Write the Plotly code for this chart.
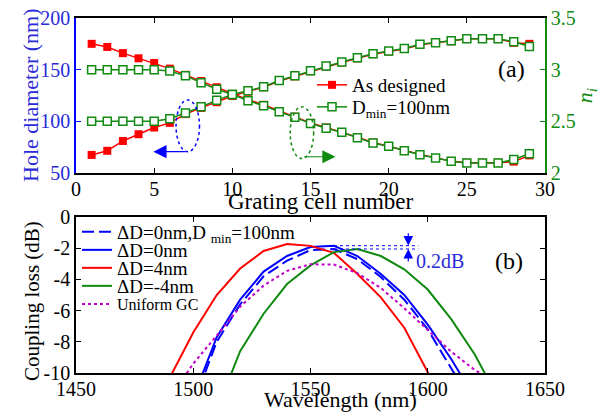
import plotly.graph_objects as go

# ---------------- data: panel (a) ----------------
cell = [1, 2, 3, 4, 5, 6, 7, 8, 9, 10, 11, 12, 13, 14, 15, 16, 17, 18, 19, 20,
        21, 22, 23, 24, 25, 26, 27, 28, 29]
hole_designed = [67.5, 71.5, 81, 87.5, 94, 98.5, 107, 113, 118.5, 124.5, 129, 133, 139, 143.5,
                 148.5, 153, 157, 161, 165, 167.5, 170, 174, 176, 177.5, 180, 180, 180, 176, 175]
hole_dmin = [100, 100, 100, 100, 100, 102.5, 108, 114, 120.5, 126, 129.5, 133.5, 139.5, 144,
             149, 153.5, 157.5, 161.5, 165.5, 168, 170.5, 174.5, 176, 178, 180, 180, 180, 177, 172.5]
n_designed = [3.25, 3.22, 3.16, 3.11, 3.065, 3.01, 2.95, 2.89, 2.83, 2.765, 2.71, 2.66, 2.60, 2.545,
              2.485, 2.44, 2.395, 2.345, 2.295, 2.26, 2.22, 2.18, 2.145, 2.115, 2.10, 2.10, 2.10, 2.11, 2.17]
n_dmin = [3.0, 3.0, 3.0, 3.0, 3.0, 2.987, 2.94, 2.874, 2.81, 2.76, 2.70, 2.65, 2.593, 2.54,
          2.48, 2.433, 2.394, 2.342, 2.29, 2.258, 2.216, 2.177, 2.145, 2.113, 2.097, 2.097, 2.097, 2.13, 2.187]

# ---------------- data: panel (b) ----------------
wl = [1490, 1500, 1510, 1520, 1530, 1540, 1550, 1560, 1570, 1580, 1590, 1600, 1610, 1620, 1630]
loss_d0_dmin = [None, -12.0, -8.0, -5.6, -3.8, -2.8, -2.12, -2.05, -2.7, -3.85, -5.3, -7.2, -9.6, -12.2, None]
loss_d0 = [None, -11.6, -7.7, -5.3, -3.5, -2.5, -1.92, -1.84, -2.5, -3.65, -5.0, -6.9, -9.1, -11.6, None]
loss_d4 = [-10.3, -7.4, -5.0, -3.3, -2.18, -1.73, -1.85, -2.3, -3.65, -5.15, -7.1, -9.9, -12.8, None, None]
loss_dm4 = [None, None, -12.4, -8.6, -6.2, -4.3, -3.1, -2.25, -2.05, -2.5, -3.35, -4.65, -6.55, -8.8, -11.6]
loss_uniform = [-11.6, -9.4, -7.6, -5.75, -4.4, -3.45, -3.03, -3.05, -3.6, -4.55, -5.85, -7.25, -8.63, -9.8, -10.7]

y_ticks_b = [0, -2, -4, -6, -8, -10]
y_ticktext_b = ["0", "-2", "-4", "-6", "-8", "-10"]

RED = "#ff0000"
GREEN = "#108a10"
BLUE = "#0000ff"
BLUE_TXT = "#2a2ad8"
MAG = "#c000c8"
FONT = "Liberation Serif, Times New Roman, Times, serif"

fig = go.Figure()

# panel (a)
fig.add_trace(go.Scatter(x=cell, y=hole_designed, mode="lines+markers", name="As designed",
                         line=dict(color=RED, width=1.5),
                         marker=dict(symbol="square", size=8, color=RED),
                         xaxis="x", yaxis="y", legend="legend"))
fig.add_trace(go.Scatter(x=cell, y=n_designed, mode="lines+markers", name="As designed",
                         line=dict(color=RED, width=1.5), showlegend=False,
                         marker=dict(symbol="square", size=8, color=RED),
                         xaxis="x", yaxis="y2"))
fig.add_trace(go.Scatter(x=cell, y=hole_dmin, mode="lines+markers", name="D<sub>min</sub>=100nm",
                         line=dict(color=GREEN, width=1.5),
                         marker=dict(symbol="square", size=8, color="white",
                                     line=dict(color=GREEN, width=1.5)),
                         xaxis="x", yaxis="y", legend="legend3"))
fig.add_trace(go.Scatter(x=cell, y=n_dmin, mode="lines+markers", name="D<sub>min</sub>=100nm",
                         line=dict(color=GREEN, width=1.5), showlegend=False,
                         marker=dict(symbol="square", size=8, color="white",
                                     line=dict(color=GREEN, width=1.5)),
                         xaxis="x", yaxis="y2"))

# panel (b)
fig.add_trace(go.Scatter(x=wl, y=loss_d0_dmin, mode="lines", name="ΔD=0nm,D <sub>min</sub>=100nm",
                         line=dict(color=BLUE, width=2, dash="12px,5px"),
                         xaxis="x2", yaxis="y3", legend="legend2"))
fig.add_trace(go.Scatter(x=wl, y=loss_d0, mode="lines", name="ΔD=0nm",
                         line=dict(color=BLUE, width=2),
                         xaxis="x2", yaxis="y3", legend="legend4"))
fig.add_trace(go.Scatter(x=wl, y=loss_d4, mode="lines", name="ΔD=4nm",
                         line=dict(color=RED, width=2),
                         xaxis="x2", yaxis="y3", legend="legend5"))
fig.add_trace(go.Scatter(x=wl, y=loss_dm4, mode="lines", name="ΔD=-4nm",
                         line=dict(color=GREEN, width=2),
                         xaxis="x2", yaxis="y3", legend="legend6"))
fig.add_trace(go.Scatter(x=wl, y=loss_uniform, mode="lines", name="Uniform GC",
                         line=dict(color=MAG, width=2, dash="3px,3px"),
                         xaxis="x2", yaxis="y3", legend="legend7"))

axis_common = dict(showline=True, linewidth=1.5, ticks="inside", ticklen=5, tickwidth=1.2,
                   showgrid=False, zeroline=False, automargin=False)

H = 355.0  # plot-area height in px (413 - 18 - 40)
W = 469.0  # plot-area width in px


def py(pix):
    """figure pixel row -> paper y"""
    return (373 - pix) / H


def px(pix):
    """figure pixel column -> paper x"""
    return (pix - 76) / W


def leg(xpx, ypix, size=19):
    return dict(x=px(xpx), y=py(ypix), xanchor="left", yanchor="middle",
                bgcolor="rgba(0,0,0,0)", font=dict(size=size), itemwidth=30,
                borderwidth=0, tracegroupgap=0)


fig.update_layout(
    width=600, height=413,
    margin=dict(l=76, r=55, t=18, b=40, autoexpand=False),
    paper_bgcolor="white", plot_bgcolor="white",
    font=dict(family=FONT, size=20, color="black"),
    xaxis=dict(domain=[0, 1], anchor="y", range=[0, 30], dtick=5, linecolor="black",
               mirror="ticks", tickcolor="black", ticklabelstandoff=-3, **axis_common),
    yaxis=dict(domain=[0.5634, 1], anchor="x", range=[50, 200], dtick=50,
               linecolor=BLUE, tickcolor=BLUE, tickfont=dict(color=BLUE_TXT),
               **axis_common),
    yaxis2=dict(overlaying="y", side="right", anchor="x", range=[2, 3.5], dtick=0.5,
                linecolor=GREEN, tickcolor=GREEN, tickfont=dict(color=GREEN),
                title=dict(text="<i>n<sub>i</sub></i>", font=dict(color=GREEN, size=22), standoff=4),
                **axis_common),
    xaxis2=dict(domain=[0, 1], anchor="y3", range=[1450, 1650], dtick=50, linecolor="black",
                mirror="ticks", tickcolor="black", ticklabelstandoff=-3, **axis_common),
    yaxis3=dict(domain=[0, 0.4394], anchor="x2", range=[-10, 0], tickvals=y_ticks_b,
                ticktext=y_ticktext_b, linecolor="black", mirror="ticks", tickcolor="black",
                **axis_common),
    legend=leg(312, 85, 19),
    legend3=leg(312, 107, 19),
    legend2=leg(77, 232, 19),
    legend4=leg(77, 250, 19),
    legend5=leg(77, 268, 19),
    legend6=leg(77, 286, 19),
    legend7=leg(77, 304, 16),
    showlegend=True,
)

# axis titles placed at the reference positions
fig.add_annotation(x=px(321), y=py(201), xref="paper", yref="paper", text="Grating cell number",
                   showarrow=False, font=dict(size=23), xanchor="center", yanchor="middle")
fig.add_annotation(x=px(340), y=py(400), xref="paper", yref="paper", text="Wavelength (nm)",
                   showarrow=False, font=dict(size=22), xanchor="center", yanchor="middle")
fig.add_annotation(x=px(30), y=py(95), xref="paper", yref="paper", text="Hole diameter (nm)",
                   showarrow=False, textangle=-90, font=dict(size=22, color=BLUE_TXT),
                   xanchor="center", yanchor="middle")
fig.add_annotation(x=px(32), y=py(301), xref="paper", yref="paper", text="Coupling loss (dB)",
                   showarrow=False, textangle=-90, font=dict(size=21),
                   xanchor="center", yanchor="middle")

# ellipses and arrows (panel a)
fig.add_shape(type="circle", xref="x", yref="y", x0=6.4, x1=7.9, y0=70.6, y1=120.6,
              line=dict(color=BLUE, width=1.5, dash="dot"))
fig.add_shape(type="circle", xref="x", yref="y", x0=13.7, x1=15.2, y0=64, y1=114,
              line=dict(color=GREEN, width=1.5, dash="dot"))
fig.add_annotation(x=4.95, y=70.6, ax=7.1, ay=70.6, xref="x", yref="y", axref="x", ayref="y",
                   text="", showarrow=True, arrowhead=2, arrowsize=2.2, arrowwidth=1.2,
                   arrowcolor=BLUE)
fig.add_annotation(x=16.6, y=65.7, ax=14.5, ay=65.7, xref="x", yref="y", axref="x", ayref="y",
                   text="", showarrow=True, arrowhead=2, arrowsize=2.2, arrowwidth=1.2,
                   arrowcolor=GREEN)
fig.add_annotation(x=px(511), y=py(69), xref="paper", yref="paper", text="(a)", showarrow=False,
                   xanchor="center", yanchor="middle", font=dict(size=24))

# panel (b) annotations
fig.add_shape(type="line", xref="x2", yref="y3", x0=1560, x1=1596, y0=-1.84, y1=-1.84,
              line=dict(color=BLUE, width=1, dash="dot"))
fig.add_shape(type="line", xref="x2", yref="y3", x0=1560, x1=1596, y0=-2.05, y1=-2.05,
              line=dict(color=BLUE, width=1, dash="dot"))
fig.add_annotation(x=1591.7, y=-1.84, ax=1591.7, ay=-0.95, xref="x2", yref="y3",
                   axref="x2", ayref="y3", text="", showarrow=True, arrowhead=2,
                   arrowsize=1.6, arrowwidth=1.2, arrowcolor=BLUE)
fig.add_annotation(x=1591.7, y=-2.05, ax=1591.7, ay=-2.95, xref="x2", yref="y3",
                   axref="x2", ayref="y3", text="", showarrow=True, arrowhead=2,
                   arrowsize=1.6, arrowwidth=1.2, arrowcolor=BLUE)
fig.add_annotation(x=1594, y=-2.85, xref="x2", yref="y3", xanchor="left", yanchor="middle",
                   text="0.2dB", showarrow=False, font=dict(size=20, color=BLUE_TXT))
fig.add_annotation(x=px(509), y=py(261), xref="paper", yref="paper", text="(b)", showarrow=False,
                   xanchor="center", yanchor="middle", font=dict(size=24))

fig.write_html("out.html", config={"displayModeBar": False},
               post_script="document.body.style.margin='0px';")
